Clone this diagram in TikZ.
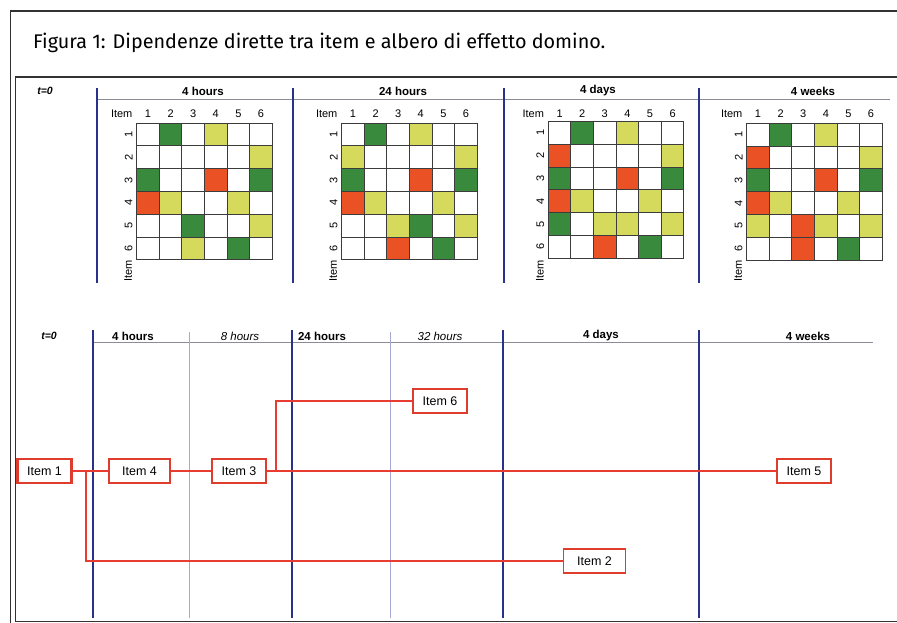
\documentclass[tikz,border=0pt]{standalone}
\usepackage{fontspec}
\setmainfont{Liberation Sans}
\newfontfamily\titlefont{Fira Sans}
\definecolor{cellW}{RGB}{255,255,255}
\definecolor{cellG}{RGB}{58,138,62}
\definecolor{cellY}{RGB}{214,218,92}
\definecolor{cellR}{RGB}{234,82,38}
\definecolor{gridc}{RGB}{60,60,60}
\definecolor{axisblue}{RGB}{40,50,140}
\definecolor{thinblue}{RGB}{165,170,212}
\definecolor{headgray}{RGB}{140,140,150}
\definecolor{boxred}{RGB}{222,60,45}
\definecolor{linered}{RGB}{232,60,50}
\definecolor{framec}{RGB}{50,50,50}
\newcommand{\mymatrix}[4]{%
  \foreach \row [count=\r] in {#4} {
    \foreach \c [count=\k] in \row {
      \path[cellbox, fill=cell\c] ({#2+(\k-1)*22.6},{#3+(\r-1)*22.8}) rectangle ++(22.6,22.8);
    }
  }
  \foreach \k in {1,...,6} {\node[collabel] (#1c\k) at ({#2+(\k-0.5)*22.6},114) {\k};}
  \foreach \r in {1,...,6} {\node[rowlabel] (#1r\r) at ({#2-8},{#3+(\r-0.5)*22.8}) {\r};}
  \node[collabel] (#1hi) at ({#2-15},114) {Item};
  \node[rowlabel] (#1vi) at ({#2-8.5},271) {Item};
}
\begin{document}
\begin{tikzpicture}[x=1pt,y=-1pt,
  frame/.style={draw=framec, line width=1.3},
  titletext/.style={font=\titlefont\fontsize{19.8}{22}\selectfont, inner sep=0},
  cellbox/.style={draw=gridc, line width=0.9},
  collabel/.style={font=\fontsize{11}{12}\selectfont, inner sep=0},
  rowlabel/.style={font=\fontsize{11}{12}\selectfont, inner sep=0, rotate=90},
  period/.style={font=\bfseries\fontsize{11.5}{13}\selectfont, inner sep=0},
  subperiod/.style={font=\itshape\fontsize{11.5}{13}\selectfont, inner sep=0},
  tzero/.style={font=\bfseries\itshape\fontsize{10.5}{12}\selectfont, inner sep=0},
  majorline/.style={draw=axisblue, line width=2},
  minorline/.style={draw=thinblue, line width=0.8},
  headline/.style={draw=headgray, line width=0.8},
  item/.style={draw=boxred, line width=1.2, fill=white, minimum height=24, minimum width=54,
    inner sep=0, font=\fontsize{12.5}{14}\selectfont},
  conn/.style={draw=linered, line width=2}]
\useasboundingbox (0,0) rectangle (897,623);
\clip (0,0) rectangle (897,623);
\fill[white] (0,0) rectangle (897,623);
% frames
\draw[frame] (10.5,11) rectangle (910,640);
\draw[frame] (15.5,77) rectangle (910,621.5);
\node[titletext, anchor=base west] (title) at (33,49) {Figura 1: Dipendenze dirette tra item e albero di effetto domino.};
% ---------- top section ----------
\draw[headline] (96.7,99) -- (890,99);
\foreach \x in {96.7,293,504,699} {\draw[majorline] (\x,88) -- (\x,283);}
\node[tzero] (tz1) at (45,91) {t=0};
\node[period] (p1) at (203,91) {4 hours};
\node[period] (p2) at (403,91) {24 hours};
\node[period] (p3) at (598,91) {4 days};
\node[period] (p4) at (813,91) {4 weeks};
\mymatrix{ma}{136.7}{123}{{W,G,W,Y,W,W},{W,W,W,W,W,Y},{G,W,W,R,W,G},{R,Y,W,W,Y,W},{W,W,G,W,W,Y},{W,W,Y,W,G,W}}
\mymatrix{mb}{341.7}{123}{{W,G,W,Y,W,W},{Y,W,W,W,W,Y},{G,W,W,R,W,G},{R,Y,W,W,Y,W},{W,W,Y,G,W,Y},{W,W,R,W,G,W}}
\mymatrix{mc}{548.3}{121.5}{{W,G,W,Y,W,W},{R,W,W,W,W,Y},{G,W,W,R,W,G},{R,Y,W,W,Y,W},{G,W,Y,Y,W,Y},{W,W,R,W,G,W}}
\mymatrix{md}{746.7}{123.3}{{W,G,W,Y,W,W},{R,W,W,W,W,Y},{G,W,W,R,W,G},{R,Y,W,W,Y,W},{Y,W,R,Y,W,Y},{W,W,R,W,G,W}}
% ---------- bottom section ----------
\draw[headline] (93,342) -- (873,342);
\foreach \x in {189.5,390.5} {\draw[minorline] (\x,332) -- (\x,618);}
\foreach \x in {93,291.5,502.5,699} {\draw[majorline] (\x,330) -- (\x,618);}
\node[tzero] (tz2) at (49,336) {t=0};
\node[period] (q1) at (133,336) {4 hours};
\node[subperiod] (q2) at (240,336) {8 hours};
\node[period] (q3) at (322,336) {24 hours};
\node[subperiod] (q4) at (440,336) {32 hours};
\node[period] (q5) at (601,336) {4 days};
\node[period] (q6) at (808,336) {4 weeks};
% items
\node[item, line width=2.6] (i1) at (44.5,471) {Item 1};
\node[item, minimum width=61] (i4) at (139.5,471) {Item 4};
\node[item] (i3) at (239,471) {Item 3};
\node[item] (i6) at (440,401) {Item 6};
\node[item] (i5) at (804,471) {Item 5};
\node[item, minimum width=62] (i2) at (594.5,561) {Item 2};
% connectors
\draw[conn] (i1) -- (i4);
\draw[conn] (i4) -- (i3);
\draw[conn] (i3) -- (i5);
\draw[conn] (i3.east) -- ++(9,0) |- (i6);
\draw[conn] (i1.east) -- ++(13,0) |- (i2);
\end{tikzpicture}
\end{document}
